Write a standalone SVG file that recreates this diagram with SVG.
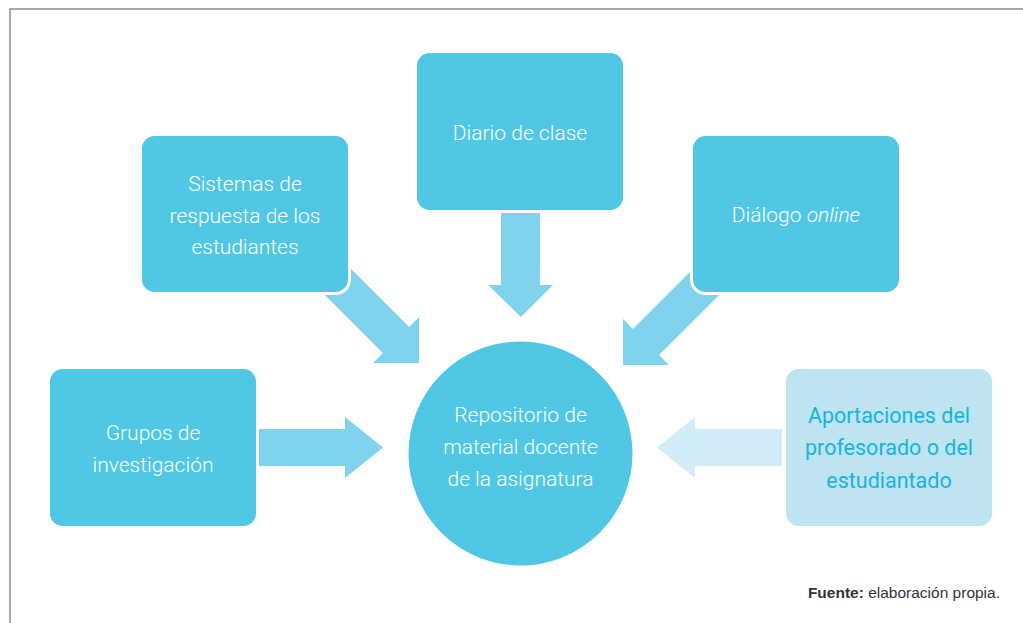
<svg xmlns="http://www.w3.org/2000/svg" width="1023" height="623" viewBox="0 0 1023 623">
  <style>
    .box { fill: #50C8E5; stroke: #FFFFFF; stroke-width: 3; }
    .boxlight { fill: #BEE4F1; stroke: #FFFFFF; stroke-width: 3; }
    .arrow { fill: #80D3EC; }
    .arrowlight { fill: #D0ECF6; }
    .t { font-family: Roboto, "Liberation Sans", sans-serif; font-weight: 300; font-size: 21px; fill: #FFFFFF; text-anchor: middle; }
    .tl { fill: #17B3DD; font-weight: 400; font-size: 21.5px; }
    .src { font-family: "Liberation Sans", Arial, sans-serif; font-size: 15.5px; fill: #333333; text-anchor: end; }
  </style>
  <rect width="1023" height="623" fill="#FFFFFF"/>
  <path d="M10,623 V9 H1023" fill="none" stroke="#8A8A8A" stroke-width="1.5"/>

  <g id="connectors">
    <path class="arrow" transform="translate(419,363) rotate(45)" d="M-140,-18.5 H-32.5 V-32.5 L0,0 L-32.5,32.5 V18.5 H-140 Z"/>
    <path class="arrow" transform="translate(623,365) rotate(135)" d="M-140,-18.5 H-32.5 V-32.5 L0,0 L-32.5,32.5 V18.5 H-140 Z"/>
    <path class="arrow" d="M501,213 H540 V285 H553 L521,317 L488,285 H501 Z"/>
    <path class="arrow" d="M259,429 H345 V417 L383,447.5 L345,478 V466 H259 Z"/>
    <path class="arrowlight" d="M782,429 H695 V417 L657,447.5 L695,478 V466 H782 Z"/>
  </g>

  <g id="node-diario">
    <rect class="box" x="415.5" y="51.5" width="209" height="160" rx="14"/>
    <text class="t" x="520" y="140">Diario de clase</text>
  </g>
  <g id="node-sistemas">
    <rect class="box" x="140.5" y="134.5" width="209" height="159" rx="14"/>
    <text class="t" x="245" y="191">Sistemas de</text>
    <text class="t" x="245" y="222.5">respuesta de los</text>
    <text class="t" x="245" y="254">estudiantes</text>
  </g>
  <g id="node-dialogo">
    <rect class="box" x="691.5" y="134.5" width="209" height="159" rx="14"/>
    <text class="t" x="796" y="222">Diálogo <tspan font-style="italic">online</tspan></text>
  </g>
  <g id="node-grupos">
    <rect class="box" x="48.5" y="367.5" width="209" height="160" rx="14"/>
    <text class="t" x="153" y="440">Grupos de</text>
    <text class="t" x="153" y="472">investigación</text>
  </g>
  <g id="node-repositorio">
    <circle class="box" cx="520.5" cy="453.5" r="113.5" stroke-width="0"/>
    <text class="t" x="520.5" y="422">Repositorio de</text>
    <text class="t" x="520.5" y="454">material docente</text>
    <text class="t" x="520.5" y="485.5">de la asignatura</text>
  </g>
  <g id="node-aportaciones">
    <rect class="boxlight" x="784.5" y="367.5" width="209" height="160" rx="14"/>
    <text class="t tl" x="889" y="423">Aportaciones del</text>
    <text class="t tl" x="889" y="455">profesorado o del</text>
    <text class="t tl" x="889" y="487.5">estudiantado</text>
  </g>
  <g id="source">
    <text class="src" x="1000" y="598"><tspan font-weight="bold">Fuente:</tspan> elaboración propia.</text>
  </g>
</svg>
